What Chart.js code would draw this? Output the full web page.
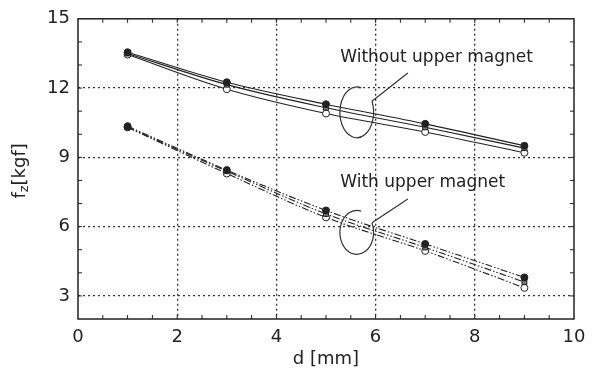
<!DOCTYPE html>
<html>
<head>
<meta charset="utf-8">
<script src="https://cdn.jsdelivr.net/npm/chart.js@4/dist/chart.umd.min.js"></script>
<style>
html,body{margin:0;padding:0;background:#fff;}
#wrap{width:599px;height:373px;position:relative;}
</style>
</head>
<body>
<div id="wrap"><canvas id="c" width="599" height="373"></canvas></div>
<script>
// ---- data ----
const distances = [1, 3, 5, 7, 9];
const withoutFilled = [13.55, 12.25, 11.3, 10.45, 9.5];
const withoutSquare = [13.5, 12.15, 11.15, 10.3, 9.4];
const withoutOpen   = [13.45, 11.95, 10.9, 10.1, 9.2];
const withFilled = [10.35, 8.45, 6.7, 5.25, 3.8];
const withSquare = [10.3, 8.4, 6.55, 5.1, 3.6];
const withOpen   = [10.3, 8.3, 6.4, 4.95, 3.35];
const xTicks = [0, 2, 4, 6, 8, 10];
const yTicks = [3, 6, 9, 12, 15];
const xLabel = "d [mm]";
const annWithout = "Without upper magnet";
const annWith = "With upper magnet";

function pts(ys){ return distances.map((x,i)=>({x:x,y:ys[i]})); }
const FONT = "'DejaVu Sans', sans-serif";

function ds(ys, dash, style, fill, rad){
  return {data: pts(ys), showLine:true, borderColor:'#222', borderWidth:1.1,
    borderDash: dash, tension:0.4, cubicInterpolationMode:'monotone',
    pointStyle: style, pointRadius: rad, pointBackgroundColor: fill,
    pointBorderColor:'#222', pointBorderWidth:1};
}
const dashDot = [7,2,1.5,2,1.5,2];

const decor = {
  id:'decor',
  afterDraw(chart){
    const ctx = chart.ctx, xs = chart.scales.x, ys = chart.scales.y, a = chart.chartArea;
    ctx.save();
    // frame
    ctx.strokeStyle='#222'; ctx.lineWidth=1.5;
    ctx.strokeRect(a.left, a.top, a.right-a.left, a.bottom-a.top);
    // minor ticks
    ctx.lineWidth=1;
    for(let v=0.5; v<10; v+=0.5){
      const px = xs.getPixelForValue(v);
      ctx.beginPath(); ctx.moveTo(px,a.bottom); ctx.lineTo(px,a.bottom-4);
      ctx.moveTo(px,a.top); ctx.lineTo(px,a.top+4); ctx.stroke();
    }
    for(let v=3; v<15; v+=1){
      const py = ys.getPixelForValue(v);
      ctx.beginPath(); ctx.moveTo(a.left,py); ctx.lineTo(a.left+4,py);
      ctx.moveTo(a.right,py); ctx.lineTo(a.right-4,py); ctx.stroke();
    }
    // annotation loops
    function loop(cx, cy, rx, ry, lx, ly){
      const px = xs.getPixelForValue(cx), py = ys.getPixelForValue(cy);
      const rpx = Math.abs(xs.getPixelForValue(cx+rx)-px);
      const rpy = Math.abs(ys.getPixelForValue(cy+ry)-py);
      const s = -1.3, e = -0.45;
      ctx.beginPath();
      ctx.ellipse(px, py, rpx, rpy, 0, s, e, true);
      ctx.stroke();
      ctx.beginPath();
      ctx.moveTo(px+rpx*Math.cos(e), py+rpy*Math.sin(e));
      ctx.lineTo(xs.getPixelForValue(lx), ys.getPixelForValue(ly)); ctx.stroke();
    }
    ctx.strokeStyle='#333'; ctx.lineWidth=1.2;
    loop(5.62, 10.95, 0.34, 1.1, 6.65, 12.65);
    loop(5.62, 5.75, 0.34, 0.95, 6.65, 7.2);
    // annotation text
    ctx.fillStyle='#222'; ctx.font='17px '+FONT; ctx.textAlign='center'; ctx.textBaseline='middle';
    ctx.fillText(annWithout, xs.getPixelForValue(7.23), ys.getPixelForValue(13.3));
    ctx.fillText(annWith, xs.getPixelForValue(6.95), ys.getPixelForValue(7.9));
    // y title f_z[kgf]
    ctx.save();
    ctx.translate(20, (a.top+a.bottom)/2 + 2);
    ctx.rotate(-Math.PI/2);
    ctx.textAlign='left'; ctx.textBaseline='middle';
    ctx.font='18px '+FONT;
    const w1 = ctx.measureText('f').width;
    ctx.font='13px '+FONT;
    const w2 = ctx.measureText('z').width;
    ctx.font='18px '+FONT;
    const w3 = ctx.measureText('[kgf]').width;
    let x0 = -(w1+w2+w3)/2;
    ctx.fillText('f', x0, 0);
    ctx.font='13px '+FONT; ctx.fillText('z', x0+w1, 5);
    ctx.font='18px '+FONT; ctx.fillText('[kgf]', x0+w1+w2, 0);
    ctx.restore();
    // x title
    ctx.font='18px '+FONT; ctx.textAlign='center'; ctx.textBaseline='middle';
    ctx.fillText(xLabel, (a.left+a.right)/2, 359);
    ctx.restore();
  }
};

new Chart(document.getElementById('c'), {
  type:'scatter',
  data:{datasets:[
    ds(withoutFilled, [], 'circle', '#222', 3.5),
    ds(withoutSquare, [], 'rect', '#777', 3.5),
    ds(withoutOpen, [], 'circle', '#fff', 3.5),
    ds(withFilled, dashDot, 'circle', '#222', 3.5),
    ds(withSquare, dashDot, 'rect', '#777', 3.5),
    ds(withOpen, dashDot, 'circle', '#fff', 3.5)
  ]},
  options:{
    responsive:false, animation:false,
    layout:{padding:{top:17, right:25, left:0, bottom:0}},
    plugins:{legend:{display:false}, tooltip:{enabled:false}},
    scales:{
      x:{type:'linear', min:0, max:10,
        afterBuildTicks(s){ s.ticks = xTicks.map(v=>({value:v})); },
        afterFit(s){ s.height = 54; },
        border:{display:false, dash:[2,3]},
        grid:{color:(c)=> (c.tick && (c.tick.value===0||c.tick.value===10)) ? 'rgba(0,0,0,0)' : '#333',
          lineWidth:1.3, drawTicks:false},
        ticks:{color:'#222', font:{family:FONT, size:18}, padding:8, maxRotation:0,
          callback:(v)=>String(v)}
      },
      y:{type:'linear', min:2, max:15,
        afterBuildTicks(s){ s.ticks = yTicks.map(v=>({value:v})); },
        afterFit(s){ s.width = 78; },
        border:{display:false, dash:[2,3]},
        grid:{color:(c)=> (c.tick && c.tick.value===15) ? 'rgba(0,0,0,0)' : '#333',
          lineWidth:1.3, drawTicks:false},
        ticks:{color:'#222', font:{family:FONT, size:18}, padding:8,
          callback:(v)=>String(v)}
      }
    }
  },
  plugins:[decor]
});
</script>
</body>
</html>
